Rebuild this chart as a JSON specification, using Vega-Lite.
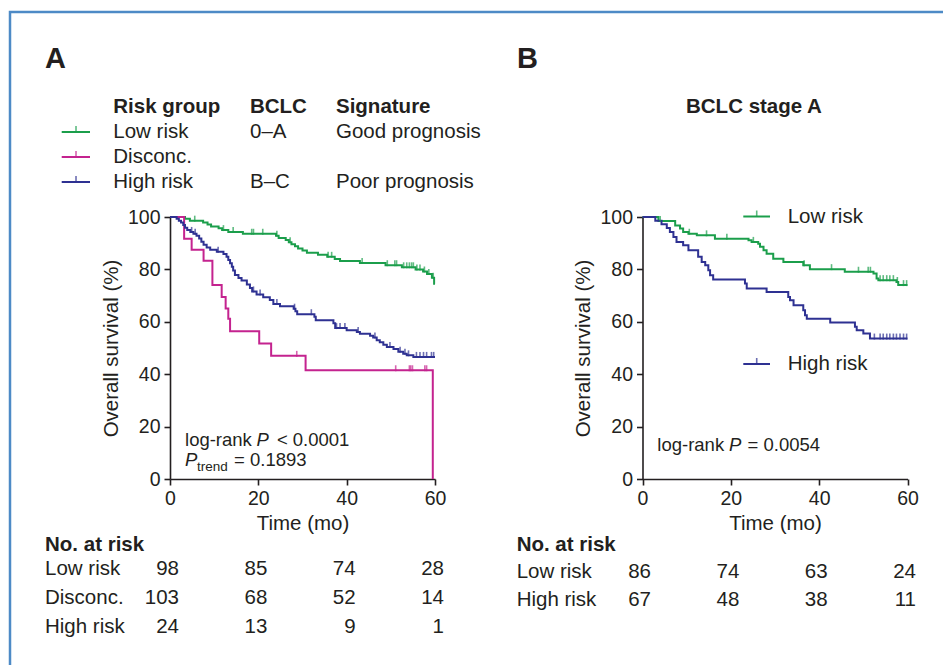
{
"$schema": "https://vega.github.io/schema/vega-lite/v6.json",
"width": 933, "height": 653,
"autosize": {"type": "none"},
"padding": {"left": 10, "top": 12, "right": 0, "bottom": 0},
"background": "white",
"config": {
 "view": {"stroke": "#4d8ac6", "strokeWidth": 2.5, "strokeDash": [933, 1586, 653]},
 "font": "Liberation Sans",
 "text": {"font": "Liberation Sans", "fontSize": 20.5, "color": "#231f20", "baseline": "middle", "align": "left"},
 "axis": {"domainColor": "#231f20", "domainWidth": 1.6, "tickColor": "#231f20", "tickWidth": 1.6, "tickSize": 6, "labelFont": "Liberation Sans", "labelFontSize": 19.5, "labelColor": "#231f20", "labelPadding": 4, "titleFont": "Liberation Sans", "titleFontSize": 20.5, "titleFontWeight": "normal", "titleColor": "#231f20", "titlePadding": 6, "grid": false, "labelFlush": false, "labelOverlap": false}
},
"data": {"values": [{}]},
"datasets": {
 "curveA": [
  {"g":"Low risk","t":0,"s":100},{"g":"Low risk","t":3.4,"s":99.3},{"g":"Low risk","t":4.5,"s":98.6},{"g":"Low risk","t":7.5,"s":97.9},{"g":"Low risk","t":8.5,"s":97.1},{"g":"Low risk","t":9.3,"s":96.4},{"g":"Low risk","t":11.0,"s":95.7},{"g":"Low risk","t":11.8,"s":95.0},{"g":"Low risk","t":13.2,"s":94.3},{"g":"Low risk","t":16.5,"s":93.6},{"g":"Low risk","t":24.0,"s":92.8},{"g":"Low risk","t":24.6,"s":92.0},{"g":"Low risk","t":26.2,"s":91.2},{"g":"Low risk","t":26.9,"s":90.4},{"g":"Low risk","t":27.5,"s":89.6},{"g":"Low risk","t":28.3,"s":88.8},{"g":"Low risk","t":29.0,"s":88.0},{"g":"Low risk","t":30.0,"s":87.2},{"g":"Low risk","t":31.0,"s":86.4},{"g":"Low risk","t":33.5,"s":85.6},{"g":"Low risk","t":35.6,"s":84.8},{"g":"Low risk","t":37.3,"s":84.0},{"g":"Low risk","t":38.5,"s":83.2},{"g":"Low risk","t":43.0,"s":82.4},{"g":"Low risk","t":48.8,"s":81.6},{"g":"Low risk","t":52.5,"s":80.8},{"g":"Low risk","t":55.6,"s":80.0},{"g":"Low risk","t":57.3,"s":79.2},{"g":"Low risk","t":58.2,"s":78.2},{"g":"Low risk","t":59.3,"s":76.8},{"g":"Low risk","t":59.8,"s":74.5},{"g":"Low risk","t":60,"s":74.5},
  {"g":"Disconc.","t":0,"s":100},{"g":"Disconc.","t":3.2,"s":91.7},{"g":"Disconc.","t":4.9,"s":87.5},{"g":"Disconc.","t":7.6,"s":83.3},{"g":"Disconc.","t":9.6,"s":74.0},{"g":"Disconc.","t":11.7,"s":69.5},{"g":"Disconc.","t":12.6,"s":65.1},{"g":"Disconc.","t":13.2,"s":61.2},{"g":"Disconc.","t":13.6,"s":56.4},{"g":"Disconc.","t":20.2,"s":51.7},{"g":"Disconc.","t":22.9,"s":47.0},{"g":"Disconc.","t":30.7,"s":41.5},{"g":"Disconc.","t":59.5,"s":0},
  {"g":"High risk","t":0,"s":100},{"g":"High risk","t":1.5,"s":99.3},{"g":"High risk","t":2.0,"s":98.6},{"g":"High risk","t":2.5,"s":97.9},{"g":"High risk","t":3.0,"s":96.9},{"g":"High risk","t":3.4,"s":95.9},{"g":"High risk","t":3.9,"s":95.0},{"g":"High risk","t":4.6,"s":94.3},{"g":"High risk","t":5.3,"s":93.6},{"g":"High risk","t":6.0,"s":92.8},{"g":"High risk","t":6.6,"s":91.8},{"g":"High risk","t":7.1,"s":90.6},{"g":"High risk","t":7.6,"s":89.4},{"g":"High risk","t":8.3,"s":88.4},{"g":"High risk","t":9.1,"s":87.5},{"g":"High risk","t":10.6,"s":86.7},{"g":"High risk","t":12.1,"s":85.9},{"g":"High risk","t":12.8,"s":84.8},{"g":"High risk","t":13.2,"s":83.6},{"g":"High risk","t":13.6,"s":82.3},{"g":"High risk","t":14.0,"s":81.0},{"g":"High risk","t":14.3,"s":79.6},{"g":"High risk","t":14.7,"s":77.9},{"g":"High risk","t":15.5,"s":76.7},{"g":"High risk","t":16.2,"s":75.8},{"g":"High risk","t":17.4,"s":74.2},{"g":"High risk","t":18.1,"s":72.9},{"g":"High risk","t":18.6,"s":71.6},{"g":"High risk","t":19.6,"s":70.4},{"g":"High risk","t":21.1,"s":69.4},{"g":"High risk","t":22.6,"s":68.3},{"g":"High risk","t":23.4,"s":66.8},{"g":"High risk","t":24.9,"s":65.9},{"g":"High risk","t":28.0,"s":65.0},{"g":"High risk","t":28.4,"s":64.0},{"g":"High risk","t":28.8,"s":62.9},{"g":"High risk","t":32.7,"s":61.9},{"g":"High risk","t":33.0,"s":60.6},{"g":"High risk","t":37.0,"s":59.4},{"g":"High risk","t":37.4,"s":57.6},{"g":"High risk","t":40.0,"s":56.8},{"g":"High risk","t":42.3,"s":56.1},{"g":"High risk","t":43.0,"s":55.4},{"g":"High risk","t":45.3,"s":54.7},{"g":"High risk","t":46.0,"s":54.0},{"g":"High risk","t":46.8,"s":53.0},{"g":"High risk","t":47.5,"s":52.2},{"g":"High risk","t":48.3,"s":51.2},{"g":"High risk","t":49.1,"s":50.4},{"g":"High risk","t":50.6,"s":49.6},{"g":"High risk","t":51.7,"s":48.6},{"g":"High risk","t":52.8,"s":47.8},{"g":"High risk","t":53.6,"s":47.2},{"g":"High risk","t":55.1,"s":46.6},{"g":"High risk","t":60,"s":46.6}
 ],
 "censA": [
  {"g":"Low risk","t":5.6,"s":98.6},{"g":"Low risk","t":12.1,"s":95.0},{"g":"Low risk","t":14.3,"s":94.3},{"g":"Low risk","t":18.5,"s":93.6},{"g":"Low risk","t":18.9,"s":93.6},{"g":"Low risk","t":21.0,"s":93.6},{"g":"Low risk","t":24.2,"s":92.8},{"g":"Low risk","t":27.2,"s":90.4},{"g":"Low risk","t":35.8,"s":84.8},{"g":"Low risk","t":36.6,"s":84.8},{"g":"Low risk","t":43.5,"s":82.4},{"g":"Low risk","t":49.2,"s":81.6},{"g":"Low risk","t":50.9,"s":81.6},{"g":"Low risk","t":51.3,"s":81.6},{"g":"Low risk","t":52.9,"s":80.8},{"g":"Low risk","t":53.6,"s":80.8},{"g":"Low risk","t":54.2,"s":80.8},{"g":"Low risk","t":54.7,"s":80.8},{"g":"Low risk","t":55.1,"s":80.8},{"g":"Low risk","t":55.9,"s":80.0},{"g":"Low risk","t":56.6,"s":80.0},{"g":"Low risk","t":57.6,"s":79.2},{"g":"Low risk","t":58.6,"s":78.2},{"g":"Low risk","t":59.6,"s":76.8},
  {"g":"Disconc.","t":28.7,"s":47.0},{"g":"Disconc.","t":51.1,"s":41.5},{"g":"Disconc.","t":54.2,"s":41.5},{"g":"Disconc.","t":54.5,"s":41.5},{"g":"Disconc.","t":54.9,"s":41.5},{"g":"Disconc.","t":57.7,"s":41.5},{"g":"Disconc.","t":58.1,"s":41.5},
  {"g":"High risk","t":4.9,"s":94.3},{"g":"High risk","t":5.7,"s":93.6},{"g":"High risk","t":10.9,"s":86.7},{"g":"High risk","t":18.9,"s":71.6},{"g":"High risk","t":20.4,"s":70.4},{"g":"High risk","t":24.2,"s":66.8},{"g":"High risk","t":28.2,"s":65.0},{"g":"High risk","t":32.0,"s":62.9},{"g":"High risk","t":37.7,"s":57.6},{"g":"High risk","t":38.5,"s":57.6},{"g":"High risk","t":39.6,"s":57.6},{"g":"High risk","t":42.6,"s":56.1},{"g":"High risk","t":46.4,"s":54.0},{"g":"High risk","t":49.8,"s":50.4},{"g":"High risk","t":52.1,"s":48.6},{"g":"High risk","t":53.2,"s":47.8},{"g":"High risk","t":54.0,"s":47.2},{"g":"High risk","t":55.8,"s":46.6},{"g":"High risk","t":56.6,"s":46.6},{"g":"High risk","t":57.4,"s":46.6},{"g":"High risk","t":58.1,"s":46.6},{"g":"High risk","t":59.2,"s":46.6},{"g":"High risk","t":59.7,"s":46.6}
 ],
 "legA": [
  {"g":"Low risk","bclc":"0–A","sig":"Good prognosis"},
  {"g":"Disconc.","bclc":"","sig":""},
  {"g":"High risk","bclc":"B–C","sig":"Poor prognosis"}
 ],
 "riskA": [
  {"g":"Low risk","t":0,"n":"98"},{"g":"Low risk","t":20,"n":"85"},{"g":"Low risk","t":40,"n":"74"},{"g":"Low risk","t":60,"n":"28"},
  {"g":"Disconc.","t":0,"n":"103"},{"g":"Disconc.","t":20,"n":"68"},{"g":"Disconc.","t":40,"n":"52"},{"g":"Disconc.","t":60,"n":"14"},
  {"g":"High risk","t":0,"n":"24"},{"g":"High risk","t":20,"n":"13"},{"g":"High risk","t":40,"n":"9"},{"g":"High risk","t":60,"n":"1"}
 ],
 "curveB": [
  {"g":"Low risk","t":0,"s":100},{"g":"Low risk","t":3.6,"s":98.5},{"g":"Low risk","t":7.4,"s":96.8},{"g":"Low risk","t":8.5,"s":95.6},{"g":"Low risk","t":9.2,"s":94.3},{"g":"Low risk","t":10.4,"s":93.6},{"g":"Low risk","t":12.3,"s":93.0},{"g":"Low risk","t":16.4,"s":91.7},{"g":"Low risk","t":24.0,"s":91.1},{"g":"Low risk","t":24.7,"s":90.5},{"g":"Low risk","t":26.2,"s":89.8},{"g":"Low risk","t":26.6,"s":88.6},{"g":"Low risk","t":27.4,"s":87.3},{"g":"Low risk","t":28.1,"s":86.0},{"g":"Low risk","t":29.6,"s":84.1},{"g":"Low risk","t":31.9,"s":82.8},{"g":"Low risk","t":36.4,"s":81.6},{"g":"Low risk","t":37.9,"s":80.1},{"g":"Low risk","t":45.8,"s":79.1},{"g":"Low risk","t":52.3,"s":78.4},{"g":"Low risk","t":53.0,"s":76.5},{"g":"Low risk","t":53.4,"s":75.9},{"g":"Low risk","t":57.5,"s":75.2},{"g":"Low risk","t":57.9,"s":74.0},{"g":"Low risk","t":60,"s":74.0},
  {"g":"High risk","t":0,"s":100},{"g":"High risk","t":2.9,"s":98.6},{"g":"High risk","t":4.3,"s":97.2},{"g":"High risk","t":5.5,"s":95.8},{"g":"High risk","t":6.2,"s":94.3},{"g":"High risk","t":7.0,"s":92.4},{"g":"High risk","t":7.7,"s":90.5},{"g":"High risk","t":9.2,"s":89.2},{"g":"High risk","t":10.4,"s":87.3},{"g":"High risk","t":12.6,"s":84.8},{"g":"High risk","t":13.4,"s":82.8},{"g":"High risk","t":14.2,"s":81.6},{"g":"High risk","t":14.9,"s":79.7},{"g":"High risk","t":15.3,"s":77.8},{"g":"High risk","t":16.0,"s":76.1},{"g":"High risk","t":23.2,"s":74.6},{"g":"High risk","t":23.6,"s":72.7},{"g":"High risk","t":28.1,"s":71.4},{"g":"High risk","t":33.0,"s":69.5},{"g":"High risk","t":33.4,"s":68.2},{"g":"High risk","t":34.2,"s":66.3},{"g":"High risk","t":36.4,"s":64.4},{"g":"High risk","t":36.8,"s":62.5},{"g":"High risk","t":37.2,"s":61.2},{"g":"High risk","t":42.5,"s":59.7},{"g":"High risk","t":48.1,"s":58.1},{"g":"High risk","t":48.5,"s":56.8},{"g":"High risk","t":50.0,"s":55.5},{"g":"High risk","t":51.5,"s":53.6},{"g":"High risk","t":60,"s":53.6}
 ],
 "censB": [
  {"g":"Low risk","t":4.0,"s":98.5},{"g":"Low risk","t":10.6,"s":93.6},{"g":"Low risk","t":14.5,"s":93.0},{"g":"Low risk","t":19.1,"s":91.7},{"g":"Low risk","t":25.1,"s":90.5},{"g":"Low risk","t":36.6,"s":81.6},{"g":"Low risk","t":42.8,"s":80.1},{"g":"Low risk","t":48.9,"s":79.1},{"g":"Low risk","t":51.1,"s":79.1},{"g":"Low risk","t":51.6,"s":79.1},{"g":"Low risk","t":53.8,"s":75.9},{"g":"Low risk","t":54.5,"s":75.9},{"g":"Low risk","t":55.3,"s":75.9},{"g":"Low risk","t":56.0,"s":75.9},{"g":"Low risk","t":56.8,"s":75.9},{"g":"Low risk","t":57.7,"s":75.2},{"g":"Low risk","t":59.1,"s":74.0},{"g":"Low risk","t":59.8,"s":74.0},
  {"g":"High risk","t":52.5,"s":53.6},{"g":"High risk","t":53.8,"s":53.6},{"g":"High risk","t":54.5,"s":53.6},{"g":"High risk","t":55.3,"s":53.6},{"g":"High risk","t":56.0,"s":53.6},{"g":"High risk","t":56.8,"s":53.6},{"g":"High risk","t":57.5,"s":53.6},{"g":"High risk","t":58.3,"s":53.6},{"g":"High risk","t":59.1,"s":53.6},{"g":"High risk","t":59.8,"s":53.6}
 ],
 "legB": [{"g":"Low risk"},{"g":"High risk"}],
 "riskB": [
  {"g":"Low risk","t":0,"n":"86"},{"g":"Low risk","t":20,"n":"74"},{"g":"Low risk","t":40,"n":"63"},{"g":"Low risk","t":60,"n":"24"},
  {"g":"High risk","t":0,"n":"67"},{"g":"High risk","t":20,"n":"48"},{"g":"High risk","t":40,"n":"38"},{"g":"High risk","t":60,"n":"11"}
 ]
},
"layer": [
 {"data": {"name": "curveA"}, "mark": {"type": "line", "interpolate": "step-after", "strokeWidth": 2},
  "encoding": {
   "x": {"field": "t", "type": "quantitative", "scale": {"domain": [0, 60], "range": [160, 425], "nice": false, "zero": false}, "axis": {"orient": "bottom", "offset": -186, "values": [0, 20, 40, 60], "title": "Time (mo)"}},
   "y": {"field": "s", "type": "quantitative", "scale": {"domain": [0, 100], "range": [467, 205], "nice": false}, "axis": {"orient": "left", "offset": -160, "values": [0, 20, 40, 60, 80, 100], "title": "Overall survival (%)"}},
   "color": {"field": "g", "type": "nominal", "scale": {"domain": ["Low risk", "Disconc.", "High risk"], "range": ["#1b9e4b", "#c4238f", "#2e3192"]}, "legend": null}}},
 {"data": {"name": "censA"}, "mark": {"type": "tick", "orient": "vertical", "size": 6, "thickness": 1.6, "yOffset": -2},
  "encoding": {
   "x": {"field": "t", "type": "quantitative", "scale": {"domain": [0, 60], "range": [160, 425], "nice": false, "zero": false}, "axis": null},
   "y": {"field": "s", "type": "quantitative", "scale": {"domain": [0, 100], "range": [467, 205], "nice": false}, "axis": null},
   "color": {"field": "g", "type": "nominal", "scale": {"domain": ["Low risk", "Disconc.", "High risk"], "range": ["#1b9e4b", "#c4238f", "#2e3192"]}, "legend": null}}},
 {"mark": {"type": "text", "text": "A", "fontSize": 29, "fontWeight": "bold", "baseline": "alphabetic"},
  "encoding": {"x": {"datum": -28.3, "type": "quantitative", "scale": {"domain": [0, 60], "range": [160, 425], "nice": false, "zero": false}, "axis": null},
   "y": {"datum": 156.9, "type": "quantitative", "scale": {"domain": [0, 100], "range": [467, 205], "nice": false}, "axis": null}}},
 {"mark": {"type": "text", "text": "No. at risk", "fontWeight": "bold"},
  "encoding": {"x": {"datum": -28.3, "type": "quantitative", "scale": {"domain": [0, 60], "range": [160, 425], "nice": false, "zero": false}, "axis": null},
   "y": {"datum": -25.2, "type": "quantitative", "scale": {"domain": [0, 100], "range": [467, 205], "nice": false}, "axis": null}}},
 {"mark": {"type": "text", "text": "log-rank", "fontSize": 18.5},
  "encoding": {"x": {"datum": 3.4, "type": "quantitative", "scale": {"domain": [0, 60], "range": [160, 425], "nice": false, "zero": false}, "axis": null},
   "y": {"datum": 14.9, "type": "quantitative", "scale": {"domain": [0, 100], "range": [467, 205], "nice": false}, "axis": null}}},
 {"mark": {"type": "text", "text": "P", "fontSize": 18.5, "fontStyle": "italic"},
  "encoding": {"x": {"datum": 19.6, "type": "quantitative", "scale": {"domain": [0, 60], "range": [160, 425], "nice": false, "zero": false}, "axis": null},
   "y": {"datum": 14.9, "type": "quantitative", "scale": {"domain": [0, 100], "range": [467, 205], "nice": false}, "axis": null}}},
 {"mark": {"type": "text", "text": "< 0.0001", "fontSize": 18.5},
  "encoding": {"x": {"datum": 24.2, "type": "quantitative", "scale": {"domain": [0, 60], "range": [160, 425], "nice": false, "zero": false}, "axis": null},
   "y": {"datum": 14.9, "type": "quantitative", "scale": {"domain": [0, 100], "range": [467, 205], "nice": false}, "axis": null}}},
 {"mark": {"type": "text", "text": "P", "fontSize": 18.5, "fontStyle": "italic"},
  "encoding": {"x": {"datum": 3.4, "type": "quantitative", "scale": {"domain": [0, 60], "range": [160, 425], "nice": false, "zero": false}, "axis": null},
   "y": {"datum": 7.25, "type": "quantitative", "scale": {"domain": [0, 100], "range": [467, 205], "nice": false}, "axis": null}}},
 {"mark": {"type": "text", "text": "trend", "fontSize": 13.5},
  "encoding": {"x": {"datum": 6.1, "type": "quantitative", "scale": {"domain": [0, 60], "range": [160, 425], "nice": false, "zero": false}, "axis": null},
   "y": {"datum": 4.7, "type": "quantitative", "scale": {"domain": [0, 100], "range": [467, 205], "nice": false}, "axis": null}}},
 {"mark": {"type": "text", "text": "= 0.1893", "fontSize": 18.5},
  "encoding": {"x": {"datum": 14.5, "type": "quantitative", "scale": {"domain": [0, 60], "range": [160, 425], "nice": false, "zero": false}, "axis": null},
   "y": {"datum": 7.25, "type": "quantitative", "scale": {"domain": [0, 100], "range": [467, 205], "nice": false}, "axis": null}}},
 {"data": {"name": "legA"}, "mark": {"type": "rule", "strokeWidth": 2},
  "encoding": {"x": {"datum": -24.52, "type": "quantitative", "scale": {"domain": [0, 60], "range": [160, 425], "nice": false, "zero": false}, "axis": null},
   "x2": {"datum": -18.11},
   "y": {"field": "g", "type": "nominal", "scale": {"type": "point", "domain": ["hdr", "Low risk", "Disconc.", "High risk"], "range": [95, 170], "padding": 0}, "axis": null},
   "color": {"field": "g", "type": "nominal", "scale": {"domain": ["Low risk", "Disconc.", "High risk"], "range": ["#1b9e4b", "#c4238f", "#2e3192"]}, "legend": null}}},
 {"data": {"name": "legA"}, "mark": {"type": "tick", "orient": "vertical", "size": 6, "thickness": 1.6, "yOffset": -3},
  "encoding": {"x": {"datum": -21.28, "type": "quantitative", "scale": {"domain": [0, 60], "range": [160, 425], "nice": false, "zero": false}, "axis": null},
   "y": {"field": "g", "type": "nominal", "scale": {"type": "point", "domain": ["hdr", "Low risk", "Disconc.", "High risk"], "range": [95, 170], "padding": 0}, "axis": null},
   "color": {"field": "g", "type": "nominal", "scale": {"domain": ["Low risk", "Disconc.", "High risk"], "range": ["#1b9e4b", "#c4238f", "#2e3192"]}, "legend": null}}},
 {"mark": {"type": "text", "text": "Risk group", "fontWeight": "bold"},
  "encoding": {"x": {"datum": -12.84, "type": "quantitative", "scale": {"domain": [0, 60], "range": [160, 425], "nice": false, "zero": false}, "axis": null},
   "y": {"datum": "hdr", "type": "nominal", "scale": {"type": "point", "domain": ["hdr", "Low risk", "Disconc.", "High risk"], "range": [95, 170], "padding": 0}, "axis": null}}},
 {"mark": {"type": "text", "text": "BCLC", "fontWeight": "bold"},
  "encoding": {"x": {"datum": 18.11, "type": "quantitative", "scale": {"domain": [0, 60], "range": [160, 425], "nice": false, "zero": false}, "axis": null},
   "y": {"datum": "hdr", "type": "nominal", "scale": {"type": "point", "domain": ["hdr", "Low risk", "Disconc.", "High risk"], "range": [95, 170], "padding": 0}, "axis": null}}},
 {"mark": {"type": "text", "text": "Signature", "fontWeight": "bold"},
  "encoding": {"x": {"datum": 37.58, "type": "quantitative", "scale": {"domain": [0, 60], "range": [160, 425], "nice": false, "zero": false}, "axis": null},
   "y": {"datum": "hdr", "type": "nominal", "scale": {"type": "point", "domain": ["hdr", "Low risk", "Disconc.", "High risk"], "range": [95, 170], "padding": 0}, "axis": null}}},
 {"data": {"name": "legA"}, "mark": {"type": "text"},
  "encoding": {"x": {"datum": -12.84, "type": "quantitative", "scale": {"domain": [0, 60], "range": [160, 425], "nice": false, "zero": false}, "axis": null},
   "y": {"field": "g", "type": "nominal", "scale": {"type": "point", "domain": ["hdr", "Low risk", "Disconc.", "High risk"], "range": [95, 170], "padding": 0}, "axis": null},
   "text": {"field": "g"}}},
 {"data": {"name": "legA"}, "mark": {"type": "text"},
  "encoding": {"x": {"datum": 18.11, "type": "quantitative", "scale": {"domain": [0, 60], "range": [160, 425], "nice": false, "zero": false}, "axis": null},
   "y": {"field": "g", "type": "nominal", "scale": {"type": "point", "domain": ["hdr", "Low risk", "Disconc.", "High risk"], "range": [95, 170], "padding": 0}, "axis": null},
   "text": {"field": "bclc"}}},
 {"data": {"name": "legA"}, "mark": {"type": "text"},
  "encoding": {"x": {"datum": 37.58, "type": "quantitative", "scale": {"domain": [0, 60], "range": [160, 425], "nice": false, "zero": false}, "axis": null},
   "y": {"field": "g", "type": "nominal", "scale": {"type": "point", "domain": ["hdr", "Low risk", "Disconc.", "High risk"], "range": [95, 170], "padding": 0}, "axis": null},
   "text": {"field": "sig"}}},
 {"data": {"name": "riskA"}, "mark": {"type": "text", "align": "right", "dx": 9},
  "encoding": {"x": {"field": "t", "type": "quantitative", "scale": {"domain": [0, 60], "range": [160, 425], "nice": false, "zero": false}, "axis": null},
   "y": {"field": "g", "type": "nominal", "scale": {"type": "point", "domain": ["Low risk", "Disconc.", "High risk"], "range": [557, 615], "padding": 0}, "axis": null},
   "text": {"field": "n", "type": "nominal"}}},
 {"data": {"name": "riskA"}, "transform": [{"filter": "datum.t == 0"}], "mark": {"type": "text"},
  "encoding": {"x": {"datum": -28.3, "type": "quantitative", "scale": {"domain": [0, 60], "range": [160, 425], "nice": false, "zero": false}, "axis": null},
   "y": {"field": "g", "type": "nominal", "scale": {"type": "point", "domain": ["Low risk", "Disconc.", "High risk"], "range": [557, 615], "padding": 0}, "axis": null},
   "text": {"field": "g", "type": "nominal"}}},

 {"data": {"name": "curveB"}, "mark": {"type": "line", "interpolate": "step-after", "strokeWidth": 2},
  "encoding": {
   "x": {"field": "t", "type": "quantitative", "scale": {"domain": [0, 60], "range": [632.5, 897.5], "nice": false, "zero": false}, "axis": {"orient": "bottom", "offset": -186, "values": [0, 20, 40, 60], "title": "Time (mo)"}},
   "y": {"field": "s", "type": "quantitative", "scale": {"domain": [0, 100], "range": [467, 205], "nice": false}, "axis": {"orient": "left", "offset": -632.5, "values": [0, 20, 40, 60, 80, 100], "title": "Overall survival (%)"}},
   "color": {"field": "g", "type": "nominal", "scale": {"domain": ["Low risk", "Disconc.", "High risk"], "range": ["#1b9e4b", "#c4238f", "#2e3192"]}, "legend": null}}},
 {"data": {"name": "censB"}, "mark": {"type": "tick", "orient": "vertical", "size": 6, "thickness": 1.6, "yOffset": -2},
  "encoding": {
   "x": {"field": "t", "type": "quantitative", "scale": {"domain": [0, 60], "range": [632.5, 897.5], "nice": false, "zero": false}, "axis": null},
   "y": {"field": "s", "type": "quantitative", "scale": {"domain": [0, 100], "range": [467, 205], "nice": false}, "axis": null},
   "color": {"field": "g", "type": "nominal", "scale": {"domain": ["Low risk", "Disconc.", "High risk"], "range": ["#1b9e4b", "#c4238f", "#2e3192"]}, "legend": null}}},
 {"mark": {"type": "text", "text": "B", "fontSize": 29, "fontWeight": "bold", "baseline": "alphabetic"},
  "encoding": {"x": {"datum": -28.42, "type": "quantitative", "scale": {"domain": [0, 60], "range": [632.5, 897.5], "nice": false, "zero": false}, "axis": null},
   "y": {"datum": 156.9, "type": "quantitative", "scale": {"domain": [0, 100], "range": [467, 205], "nice": false}, "axis": null}}},
 {"mark": {"type": "text", "text": "BCLC stage A", "fontWeight": "bold"},
  "encoding": {"x": {"datum": 9.85, "type": "quantitative", "scale": {"domain": [0, 60], "range": [632.5, 897.5], "nice": false, "zero": false}, "axis": null},
   "y": {"datum": 142, "type": "quantitative", "scale": {"domain": [0, 100], "range": [467, 205], "nice": false}, "axis": null}}},
 {"mark": {"type": "text", "text": "No. at risk", "fontWeight": "bold"},
  "encoding": {"x": {"datum": -28.5, "type": "quantitative", "scale": {"domain": [0, 60], "range": [632.5, 897.5], "nice": false, "zero": false}, "axis": null},
   "y": {"datum": -25.2, "type": "quantitative", "scale": {"domain": [0, 100], "range": [467, 205], "nice": false}, "axis": null}}},
 {"mark": {"type": "text", "text": "log-rank", "fontSize": 18.5},
  "encoding": {"x": {"datum": 3.35, "type": "quantitative", "scale": {"domain": [0, 60], "range": [632.5, 897.5], "nice": false, "zero": false}, "axis": null},
   "y": {"datum": 13.0, "type": "quantitative", "scale": {"domain": [0, 100], "range": [467, 205], "nice": false}, "axis": null}}},
 {"mark": {"type": "text", "text": "P", "fontSize": 18.5, "fontStyle": "italic"},
  "encoding": {"x": {"datum": 19.6, "type": "quantitative", "scale": {"domain": [0, 60], "range": [632.5, 897.5], "nice": false, "zero": false}, "axis": null},
   "y": {"datum": 13.0, "type": "quantitative", "scale": {"domain": [0, 100], "range": [467, 205], "nice": false}, "axis": null}}},
 {"mark": {"type": "text", "text": "= 0.0054", "fontSize": 18.5},
  "encoding": {"x": {"datum": 23.8, "type": "quantitative", "scale": {"domain": [0, 60], "range": [632.5, 897.5], "nice": false, "zero": false}, "axis": null},
   "y": {"datum": 13.0, "type": "quantitative", "scale": {"domain": [0, 100], "range": [467, 205], "nice": false}, "axis": null}}},
 {"data": {"name": "legB"}, "mark": {"type": "rule", "strokeWidth": 2},
  "encoding": {"x": {"datum": 22.82, "type": "quantitative", "scale": {"domain": [0, 60], "range": [632.5, 897.5], "nice": false, "zero": false}, "axis": null},
   "x2": {"datum": 28.87},
   "y": {"field": "g", "type": "nominal", "scale": {"type": "point", "domain": ["Low risk", "High risk"], "range": [204.5, 352], "padding": 0}, "axis": null},
   "color": {"field": "g", "type": "nominal", "scale": {"domain": ["Low risk", "Disconc.", "High risk"], "range": ["#1b9e4b", "#c4238f", "#2e3192"]}, "legend": null}}},
 {"data": {"name": "legB"}, "mark": {"type": "tick", "orient": "vertical", "size": 6, "thickness": 1.6, "yOffset": -3},
  "encoding": {"x": {"datum": 25.86, "type": "quantitative", "scale": {"domain": [0, 60], "range": [632.5, 897.5], "nice": false, "zero": false}, "axis": null},
   "y": {"field": "g", "type": "nominal", "scale": {"type": "point", "domain": ["Low risk", "High risk"], "range": [204.5, 352], "padding": 0}, "axis": null},
   "color": {"field": "g", "type": "nominal", "scale": {"domain": ["Low risk", "Disconc.", "High risk"], "range": ["#1b9e4b", "#c4238f", "#2e3192"]}, "legend": null}}},
 {"data": {"name": "legB"}, "mark": {"type": "text"},
  "encoding": {"x": {"datum": 32.88, "type": "quantitative", "scale": {"domain": [0, 60], "range": [632.5, 897.5], "nice": false, "zero": false}, "axis": null},
   "y": {"field": "g", "type": "nominal", "scale": {"type": "point", "domain": ["Low risk", "High risk"], "range": [204.5, 352], "padding": 0}, "axis": null},
   "text": {"field": "g"}}},
 {"data": {"name": "riskB"}, "mark": {"type": "text", "align": "right", "dx": 8.5},
  "encoding": {"x": {"field": "t", "type": "quantitative", "scale": {"domain": [0, 60], "range": [632.5, 897.5], "nice": false, "zero": false}, "axis": null},
   "y": {"field": "g", "type": "nominal", "scale": {"type": "point", "domain": ["Low risk", "High risk"], "range": [560, 587.5], "padding": 0}, "axis": null},
   "text": {"field": "n", "type": "nominal"}}},
 {"data": {"name": "riskB"}, "transform": [{"filter": "datum.t == 0"}], "mark": {"type": "text"},
  "encoding": {"x": {"datum": -28.5, "type": "quantitative", "scale": {"domain": [0, 60], "range": [632.5, 897.5], "nice": false, "zero": false}, "axis": null},
   "y": {"field": "g", "type": "nominal", "scale": {"type": "point", "domain": ["Low risk", "High risk"], "range": [560, 587.5], "padding": 0}, "axis": null},
   "text": {"field": "g", "type": "nominal"}}}
],
"resolve": {"scale": {"x": "independent", "y": "independent"}, "axis": {"x": "independent", "y": "independent"}}
}
